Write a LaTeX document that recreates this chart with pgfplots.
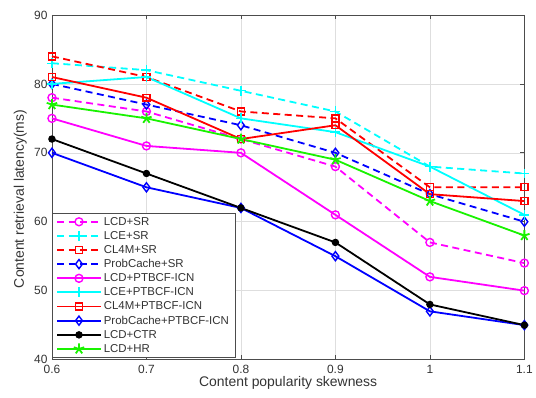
\documentclass[border=0pt]{standalone}
\usepackage{pgfplots}
\pgfplotsset{compat=1.18}
\usepackage{fontspec}
\setmainfont{Liberation Sans}
\definecolor{mgreen}{rgb}{0.1,0.95,0}
\definecolor{mmag}{rgb}{1,0,1}
\definecolor{mcyan}{rgb}{0,1,1}
\definecolor{mred}{rgb}{1,0,0}
\definecolor{mblue}{rgb}{0,0,1}
\definecolor{axgray}{rgb}{0.3,0.3,0.3}
\definecolor{txtgray}{rgb}{0.2,0.2,0.2}
\begin{document}
\begin{tikzpicture}
\begin{axis}[
  scale only axis,
  width=473bp, height=345bp,
  xmin=0.6, xmax=1.1, ymin=40, ymax=90,
  xtick={0.6,0.7,0.8,0.9,1,1.1},
  xticklabels={0.6,0.7,0.8,0.9,1,1.1},
  ytick={40,50,60,70,80,90},
  grid=major,
  major grid style={black!13, line width=0.6pt},
  axis line style={axgray, line width=0.7pt},
  tick style={axgray, line width=0.7pt},
  tick align=inside,
  major tick length=4.5bp,
  /pgf/number format/assume math mode=true,
  tick label style={font=\fontsize{12}{14}\selectfont, text=txtgray},
  xticklabel style={yshift=-2bp},
  yticklabel style={xshift=-1bp},
  xlabel={Content popularity skewness},
  ylabel={Content retrieval latency(ms)},
  label style={font=\fontsize{14}{16}\selectfont, text=txtgray},
  xlabel style={yshift=4bp},
  ylabel style={at={(axis description cs:0,0.466)}, anchor=south, inner sep=0pt, yshift=25bp},
  legend style={font=\fontsize{11.5}{13}\selectfont, draw=axgray, row sep=0.6pt, inner xsep=4pt, inner ysep=2pt, at={(0,0.005)}, anchor=south west, cells={anchor=west}, text=txtgray},
  legend image code/.code={\draw[mark repeat=2,mark phase=2,#1] plot coordinates {(0bp,0bp) (22bp,0bp) (44bp,0bp)};},
  legend image post style={line width=1.8bp},
  every axis plot/.append style={line width=1.8bp, mark size=4pt, mark options={solid, line width=1.4bp}},
  sr/.style={dash pattern=on 7bp off 4.5bp},
]
% SR (dashed)
\addplot[mmag, sr, mark=o] coordinates {(0.6,78) (0.7,76) (0.8,72) (0.9,68) (1,57) (1.1,54)};
\addlegendentry{LCD+SR}
\addplot[mcyan, sr, mark=+, mark size=5pt] coordinates {(0.6,83) (0.7,82) (0.8,79) (0.9,76) (1,68) (1.1,67)};
\addlegendentry{LCE+SR}
\addplot[mred, sr, mark=square, mark size=3.5pt] coordinates {(0.6,84) (0.7,81) (0.8,76) (0.9,75) (1,65) (1.1,65)};
\addlegendentry{CL4M+SR}
\addplot[mblue, sr, mark=diamond, mark size=4.6pt] coordinates {(0.6,80) (0.7,77) (0.8,74) (0.9,70) (1,64) (1.1,60)};
\addlegendentry{ProbCache+SR}
% PTBCF-ICN (solid)
\addplot[mmag, mark=o] coordinates {(0.6,75) (0.7,71) (0.8,70) (0.9,61) (1,52) (1.1,50)};
\addlegendentry{LCD+PTBCF-ICN}
\addplot[mcyan, mark=+, mark size=5pt] coordinates {(0.6,80) (0.7,81) (0.8,75) (0.9,73) (1,68) (1.1,61)};
\addlegendentry{LCE+PTBCF-ICN}
\addplot[mred, mark=square, mark size=3.5pt] coordinates {(0.6,81) (0.7,78) (0.8,72) (0.9,74) (1,64) (1.1,63)};
\addlegendentry{CL4M+PTBCF-ICN}
\addplot[mblue, mark=diamond, mark size=4.6pt] coordinates {(0.6,70) (0.7,65) (0.8,62) (0.9,55) (1,47) (1.1,45)};
\addlegendentry{ProbCache+PTBCF-ICN}
\addplot[black, mark=*, mark size=3pt] coordinates {(0.6,72) (0.7,67) (0.8,62) (0.9,57) (1,48) (1.1,45)};
\addlegendentry{LCD+CTR}
\addplot[mgreen, mark=star, mark size=5.5pt, mark options={fill=mgreen}] coordinates {(0.6,77) (0.7,75) (0.8,72) (0.9,69) (1,63) (1.1,58)};
\addlegendentry{LCD+HR}
\end{axis}
\path (current axis.south west) ++(-52bp,-38bp) coordinate (bl);
\path (current axis.north east) ++(11bp,15bp) coordinate (tr);
\path (bl) rectangle (tr);
\end{tikzpicture}
\end{document}
